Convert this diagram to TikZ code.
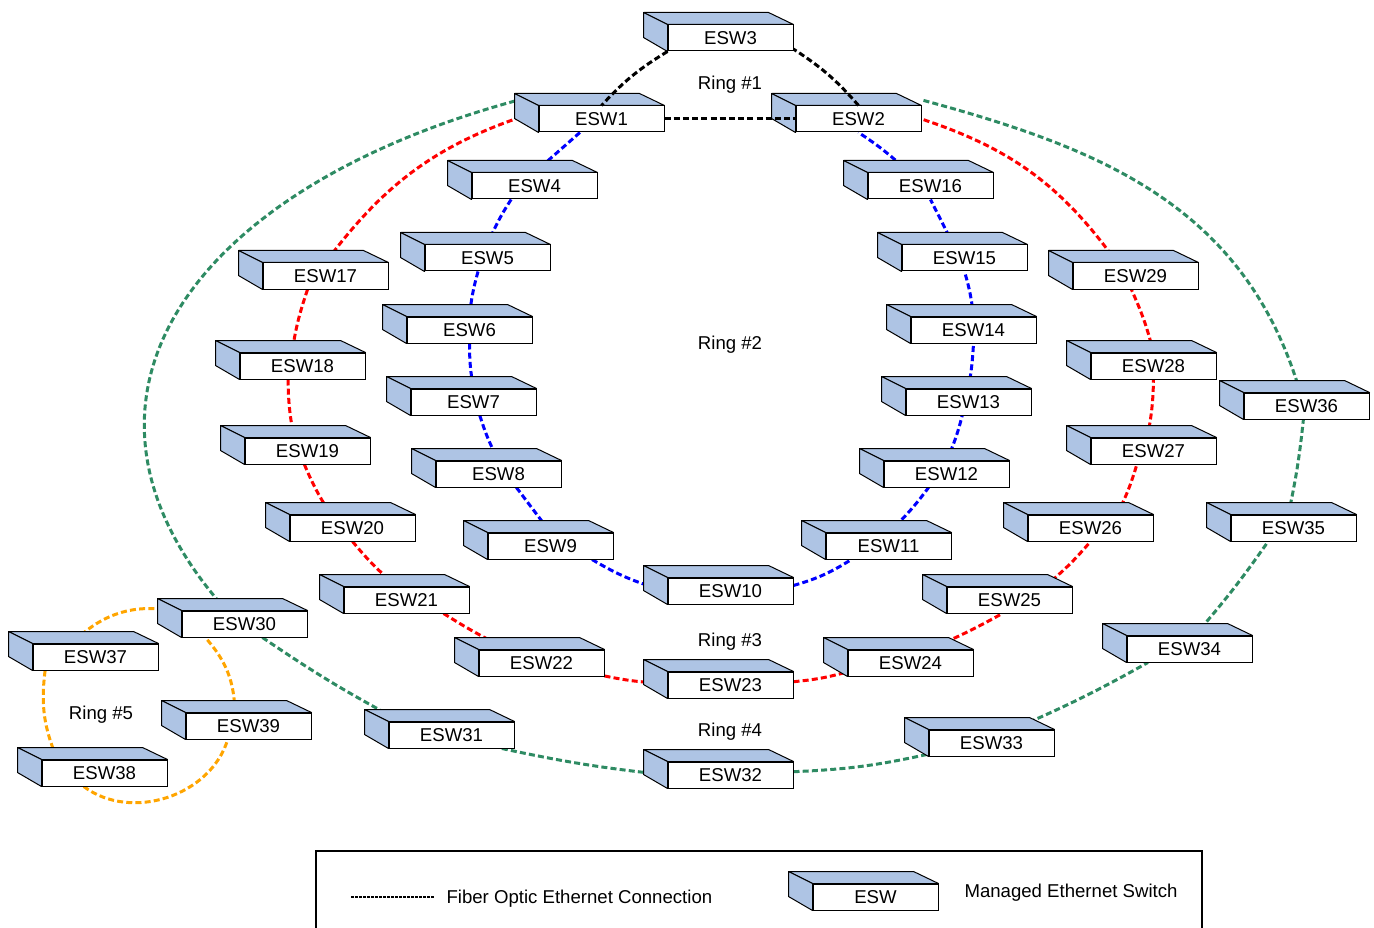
\documentclass[tikz,border=0pt]{standalone}
\usepackage{fontspec}
\setmainfont{Liberation Sans}
\usetikzlibrary{backgrounds}
\definecolor{eswface}{HTML}{AEC4E4}
\definecolor{ringgreen}{HTML}{2E8B63}
\definecolor{ringorange}{HTML}{FFA500}
\tikzset{
  esw/.style={draw,fill=white,line width=1pt,minimum width=125pt,minimum height=26pt,inner sep=0pt,xshift=-0.5pt,
    append after command={\pgfextra{
      \draw[fill=eswface,line width=1pt,line join=round] (\tikzlastnode.north west) -- ++(-24,12) -- ++(125,0) -- (\tikzlastnode.north east) -- cycle;
      \draw[fill=eswface,line width=1pt,line join=round] (\tikzlastnode.north west) -- ++(-24,12) -- ++(0,-25) -- (\tikzlastnode.south west) -- cycle;
    }}},
  ring/.style={line width=3pt,dash pattern=on 6pt off 3.2pt}
}
\begin{document}
\begin{tikzpicture}[x=1pt,y=1pt,every node/.append style={font=\fontsize{18.6}{22}\selectfont}]
      \useasboundingbox (0,0) rectangle (1374,-928);
      \draw
        (731,-38) node[esw] (esw3){ESW3}
        (602,-119) node[esw] (esw1){ESW1}
        (859,-119) node[esw] (esw2){ESW2}
        (535,-186) node[esw] (esw4){ESW4}
        (488,-258) node[esw] (esw5){ESW5}
        (470,-330) node[esw] (esw6){ESW6}
        (474,-402) node[esw] (esw7){ESW7}
        (499,-474) node[esw] (esw8){ESW8}
        (551,-546) node[esw] (esw9){ESW9}
        (731,-591) node[esw] (esw10){ESW10}
        (889,-546) node[esw] (esw11){ESW11}
        (947,-474) node[esw] (esw12){ESW12}
        (969,-402) node[esw] (esw13){ESW13}
        (974,-330) node[esw] (esw14){ESW14}
        (965,-258) node[esw] (esw15){ESW15}
        (931,-186) node[esw] (esw16){ESW16}
        (326,-276) node[esw] (esw17){ESW17}
        (303,-366) node[esw] (esw18){ESW18}
        (308,-451) node[esw] (esw19){ESW19}
        (353,-528) node[esw] (esw20){ESW20}
        (407,-600) node[esw] (esw21){ESW21}
        (542,-663) node[esw] (esw22){ESW22}
        (731,-685) node[esw] (esw23){ESW23}
        (911,-663) node[esw] (esw24){ESW24}
        (1010,-600) node[esw] (esw25){ESW25}
        (1091,-528) node[esw] (esw26){ESW26}
        (1154,-451) node[esw] (esw27){ESW27}
        (1154,-366) node[esw] (esw28){ESW28}
        (1136,-276) node[esw] (esw29){ESW29}
        (245,-624) node[esw] (esw30){ESW30}
        (452,-735) node[esw] (esw31){ESW31}
        (731,-775) node[esw] (esw32){ESW32}
        (992,-743) node[esw] (esw33){ESW33}
        (1190,-649) node[esw] (esw34){ESW34}
        (1294,-528) node[esw] (esw35){ESW35}
        (1307,-406) node[esw] (esw36){ESW36}
        (96,-657) node[esw] (esw37){ESW37}
        (105,-773) node[esw] (esw38){ESW38}
        (249,-726) node[esw] (esw39){ESW39}
        (876,-897) node[esw] (eswkey){ESW};
      \draw
        (730,-85) node (ring1){Ring \#1}
        (730,-345) node (ring2){Ring \#2}
        (730,-642) node (ring3){Ring \#3}
        (730,-732) node (ring4){Ring \#4}
        (101,-715) node (ring5){Ring \#5}
        (443,-899) node[anchor=west] (keyline){Fiber Optic Ethernet Connection}
        (961,-893) node[anchor=west] (keyswitch){Managed Ethernet Switch};
      \coordinate (greenwest) at (515,-101);
      \coordinate (greeneast) at (922,-100);
      \begin{scope}[ring,black]
        \draw (esw3.south west) to[bend right=8] (esw1.north);
        \draw (esw2.north) to[bend right=8] (esw3.-10);
        \draw (esw1.east) to (esw2.west);
      \end{scope}
      \begin{scope}[on background layer={ring,blue}]
        \draw (esw1.212) to (esw4.north);
        \draw (esw4.210) to[bend right=5] (esw5.north);
        \draw (esw5.235) to[bend right=5] (esw6.north);
        \draw (esw6.south) to[bend right=5] (esw7.north);
        \draw (esw7.-65) to[bend right=5] (esw8.north);
        \draw (esw8.-37) to (esw9.north);
        \draw (esw9.-18) to[bend right=8] (esw10.west);
        \draw (esw10.5) to[bend right=8] (esw11.200);
        \draw (esw11.north) to[bend right=5] (esw12.217);
        \draw (esw12.north) to[bend right=5] (esw13.245);
        \draw (esw13.north) to[bend right=3] (esw14.south);
        \draw (esw14.north) to[bend right=5] (esw15.south);
        \draw (esw15.130) to (esw16.south);
        \draw (esw16.148) to[bend right=5] (esw2.south);
      \end{scope}
      \begin{scope}[on background layer={ring,red}]
        \draw (esw1.173) to[bend right=18] (esw17.north);
        \draw (esw17.217) to[bend right=5] (esw18.128);
        \draw (esw18.223) to[bend right=5] (esw19.135);
        \draw (esw19.257) to[bend right=5] (esw20.148);
        \draw (esw20.south) to[bend right=5] (esw21.125);
        \draw (esw21.-20) to[bend right=3] (esw22.158);
        \draw (esw22) to[bend right=5] (esw23);
        \draw (esw23.3) to[bend right=5] (esw24.188);
        \draw (esw24.37) to[bend right=3] (esw25.242);
        \draw (esw25.21) to[bend right=5] (esw26.south);
        \draw (esw26.27) to[bend right=5] (esw27.219);
        \draw (esw27.115) to[bend right=5] (esw28.south);
        \draw (esw28.north) to[bend right=5] (esw29.253);
        \draw (esw29.144) to[bend right=18] (esw2.east);
      \end{scope}
      \begin{scope}[on background layer={ring,ringgreen}]
        \draw (greenwest) .. controls (190,-190) and (38,-400) .. (esw30.143);
        \draw (esw30.-37) to[bend right=3] (esw31.165);
        \draw (esw31.-15) to[bend right=3] (esw32.west);
        \draw (esw32.3) to[bend right=5] (esw33.190);
        \draw (esw33.33) to[bend right=3] (esw34.198);
        \draw (esw34.69) to[bend right=3] (esw35.208);
        \draw (esw35.111) to[bend right=3] (esw36.257);
        \draw (esw36.115) .. controls (1245,-205) and (1099,-148) .. (greeneast);
      \end{scope}
      \begin{scope}[on background layer={ring,ringorange}]
        \draw (esw30.170) to[bend right=30] (esw37.150);
        \draw (esw37.195) to[bend right=15] (esw38.164);
        \draw (esw38.213) to[bend right=55] (esw39.213);
        \draw (esw39.135) to[bend right=20] (esw30.199);
      \end{scope}
      \coordinate (keystart) at (351,-897);
      \coordinate (keyend) at (435,-897);
      \draw[line width=1.5pt,dash pattern=on 2.5pt off 1.5pt] (keystart) -- (keyend);
      \coordinate (framea) at (316,-928);
      \coordinate (frameb) at (1202,-928);
      \draw[line width=2pt] (framea) |- (1202,-851) -- (frameb);
    \end{tikzpicture}
\end{document}
